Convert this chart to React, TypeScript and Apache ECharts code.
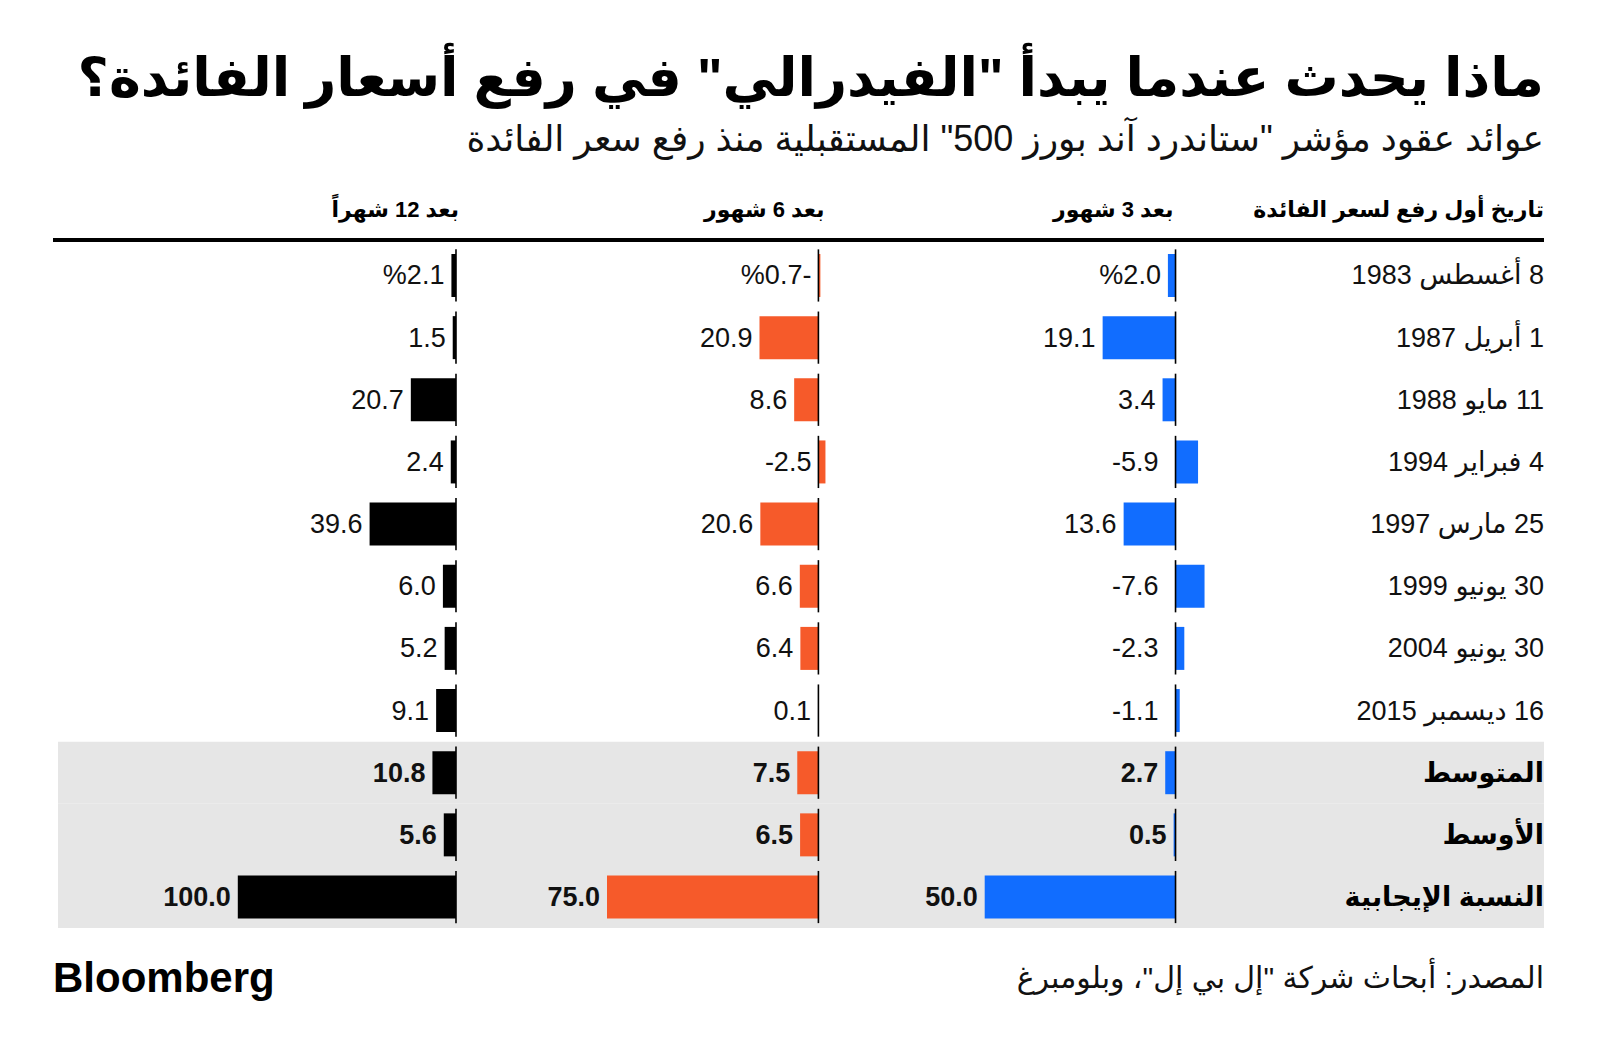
import React, { useEffect, useRef } from 'react';
import * as echarts from 'echarts';

const categories = [
  '8 أغسطس 1983',
  '1 أبريل 1987',
  '11 مايو 1988',
  '4 فبراير 1994',
  '25 مارس 1997',
  '30 يونيو 1999',
  '30 يونيو 2004',
  '16 ديسمبر 2015',
  'المتوسط',
  'الأوسط',
  'النسبة الإيجابية',
];
const after3 = [2.0, 19.1, 3.4, -5.9, 13.6, -7.6, -2.3, -1.1, 2.7, 0.5, 50.0];
const after6 = [-0.7, 20.9, 8.6, -2.5, 20.6, 6.6, 6.4, 0.1, 7.5, 6.5, 75.0];
const after12 = [2.1, 1.5, 20.7, 2.4, 39.6, 6.0, 5.2, 9.1, 10.8, 5.6, 100.0];
const summaryRows = [0, 0, 0, 0, 0, 0, 0, 0, 1, 1, 1];

const titleText = 'ماذا يحدث عندما يبدأ "الفيدرالي" في رفع أسعار الفائدة؟';
const subtitleText = 'عوائد عقود مؤشر "ستاندرد آند بورز 500" المستقبلية منذ رفع سعر الفائدة';
const headerDate = 'تاريخ أول رفع لسعر الفائدة';
const header3 = 'بعد 3 شهور';
const header6 = 'بعد 6 شهور';
const header12 = 'بعد 12 شهراً';
const sourceText = 'المصدر: أبحاث شركة "إل بي إل"، وبلومبرغ';

const rtl = (s: string) => '\u202B' + s + '\u202C';
const AR = '"Liberation Sans", "DejaVu Sans", sans-serif';
const NUM = '"Liberation Sans", Arial, sans-serif';

const GRID_TOP = 244.4;
const GRID_BOTTOM = 1055 - 928.1;

function barSeries(values: number[], color: string, idx: number, negGap: number) {
  return {
    type: 'bar',
    xAxisIndex: idx,
    yAxisIndex: idx,
    barWidth: 43,
    z: 3,
    itemStyle: { color },
    data: values.map((v, i) => {
      const label: any = {};
      if (summaryRows[i]) label.fontWeight = 'bold';
      if (v < 0) label.distance = negGap;
      return { value: v, label };
    }),
    label: {
      show: true,
      position: 'left',
      distance: 7,
      color: '#111',
      fontSize: 27,
      fontFamily: NUM,
      formatter: (p: any) => {
        const v = p.value as number;
        if (p.dataIndex === 0) return '%' + Math.abs(v).toFixed(1) + (v < 0 ? '-' : '');
        return v.toFixed(1);
      },
    },
  };
}

function zeroLine(idx: number) {
  return {
    type: 'custom',
    xAxisIndex: idx,
    yAxisIndex: idx,
    z: 5,
    silent: true,
    encode: { x: 0, y: 1 },
    data: categories.map((_, i) => [0, i]),
    renderItem: (params: any, api: any) => {
      const p = api.coord([0, api.value(1)]);
      const h = api.size([0, 1])[1];
      return {
        type: 'line',
        shape: { x1: p[0], y1: p[1] - h * 0.42, x2: p[0], y2: p[1] + h * 0.42 },
        style: { stroke: '#000', lineWidth: 1.6 },
      };
    },
  };
}

export default function App() {
  const ref = useRef<HTMLDivElement>(null);
  useEffect(() => {
    if (!ref.current) return;
    const chart = echarts.init(ref.current, null, { renderer: 'svg' });
    const hiddenY = (i: number) => ({
      type: 'category',
      gridIndex: i,
      data: categories,
      inverse: true,
      show: false,
    });
    const hiddenX = (i: number, min: number, max: number) => ({
      type: 'value',
      gridIndex: i,
      min,
      max,
      inverse: true,
      show: false,
    });
    const header = (t: string, x: number) => ({
      type: 'text',
      style: {
        text: rtl(t),
        x,
        y: 209,
        align: 'right',
        verticalAlign: 'middle',
        fontSize: 22,
        fontWeight: 'bold',
        fontFamily: AR,
        fill: '#000',
      },
    });
    chart.setOption({
      animation: false,
      backgroundColor: '#ffffff',
      grid: [
        { left: 58, right: 56, top: GRID_TOP, bottom: GRID_BOTTOM },
        { left: 984.7, right: 386.3, top: GRID_TOP, bottom: GRID_BOTTOM },
        { left: 607, right: 767.5, top: GRID_TOP, bottom: GRID_BOTTOM },
        { left: 237.8, right: 1133.1, top: GRID_TOP, bottom: GRID_BOTTOM },
      ],
      xAxis: [
        { type: 'value', gridIndex: 0, min: 0, max: 1, show: false },
        hiddenX(1, -10, 50),
        hiddenX(2, -5, 75),
        hiddenX(3, -5, 100),
      ],
      yAxis: [
        {
          type: 'category',
          gridIndex: 0,
          data: categories,
          inverse: true,
          position: 'right',
          axisLine: { show: false },
          axisTick: { show: false },
          splitLine: { show: false },
          axisLabel: {
            inside: true,
            margin: 0,
            align: 'right',
            formatter: (v: string, i: number) =>
              summaryRows[i] ? '{b|' + rtl(v) + '}' : '{n|' + rtl(v) + '}',
            rich: {
              n: { fontSize: 27, fontFamily: AR, color: '#111' },
              b: { fontSize: 27, fontFamily: AR, color: '#000', fontWeight: 'bold' },
            },
          },
        },
        hiddenY(1),
        hiddenY(2),
        hiddenY(3),
      ],
      series: [
        {
          type: 'bar',
          xAxisIndex: 0,
          yAxisIndex: 0,
          barWidth: '100%',
          silent: true,
          z: 0,
          itemStyle: { color: '#e6e6e6' },
          data: summaryRows.map((s) => (s ? 1 : null)),
        },
        barSeries(after3, '#116dff', 1, 17),
        barSeries(after6, '#f65a2a', 2, 7),
        barSeries(after12, '#000000', 3, 7),
        zeroLine(1),
        zeroLine(2),
        zeroLine(3),
      ],
      graphic: [
        {
          type: 'text',
          style: {
            text: rtl(titleText),
            x: 1544,
            y: 77,
            align: 'right',
            verticalAlign: 'middle',
            fontSize: 54,
            fontWeight: 'bold',
            fontFamily: AR,
            fill: '#000',
          },
        },
        {
          type: 'text',
          style: {
            text: rtl(subtitleText),
            x: 1544,
            y: 138,
            align: 'right',
            verticalAlign: 'middle',
            fontSize: 36,
            fontFamily: AR,
            fill: '#111',
          },
        },
        header(headerDate, 1544),
        header(header3, 1173.5),
        header(header6, 824.5),
        header(header12, 459),
        {
          type: 'line',
          shape: { x1: 53, y1: 240, x2: 1544, y2: 240 },
          style: { stroke: '#000', lineWidth: 4 },
        },
        {
          type: 'text',
          style: {
            text: 'Bloomberg',
            x: 53,
            y: 977,
            align: 'left',
            verticalAlign: 'middle',
            fontSize: 42,
            fontWeight: 'bold',
            fontFamily: '"Liberation Sans", Arial, sans-serif',
            fill: '#000',
          },
        },
        {
          type: 'text',
          style: {
            text: rtl(sourceText),
            x: 1544,
            y: 977,
            align: 'right',
            verticalAlign: 'middle',
            fontSize: 30,
            fontFamily: AR,
            fill: '#111',
          },
        },
      ],
    });
    return () => chart.dispose();
  }, []);
  return (
    <div
      ref={ref}
      style={{ position: 'absolute', left: 0, top: 0, width: 1600, height: 1055 }}
    />
  );
}
